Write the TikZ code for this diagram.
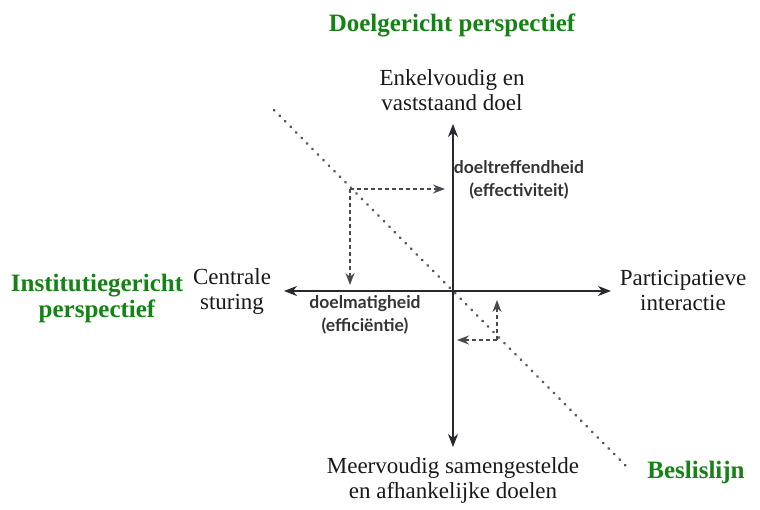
\documentclass[tikz,border=0pt]{standalone}
\usepackage{fontspec}
\setmainfont{Liberation Serif}
\newfontfamily\labsans{Lato}
\usetikzlibrary{arrows.meta}
\definecolor{pgreen}{RGB}{20,130,20}
\definecolor{axisgray}{RGB}{40,40,48}
\tikzset{
  lbl/.style={align=center, font=\fontsize{23}{25}\selectfont, text=black!90, inner sep=0pt},
  slbl/.style={align=center, font=\labsans\bfseries\fontsize{17.5}{23}\selectfont, text=black!80, inner sep=0pt},
  glbl/.style={align=center, font=\bfseries\fontsize{25}{26}\selectfont, text=pgreen, inner sep=0pt},
  axis/.style={draw=axisgray, line width=1.7pt, -{Stealth[length=13pt,width=10pt,inset=4pt]}},
  dasharrow/.style={draw=axisgray!85, line width=1.6pt, dash pattern=on 4pt off 3pt, -{Stealth[length=12pt,width=9pt,inset=4pt]}},
  dline/.style={draw=gray!70!black, line width=2.6pt, line cap=round, dash pattern=on 0.6pt off 7.2pt}
}
\begin{document}
\begin{tikzpicture}[x=1pt,y=-1pt]
\useasboundingbox (0,0) rectangle (760,509);
% axes
\coordinate (O) at (453,291);
\coordinate (top) at (453,124);
\coordinate (bot) at (453,447);
\coordinate (lft) at (284,291);
\coordinate (rgt) at (611,291);
\draw[axis] (O) -- (top);
\draw[axis] (O) -- (bot);
\draw[axis] (O) -- (lft);
\draw[axis] (O) -- (rgt);
% decision line
\coordinate (d1) at (274,110);
\coordinate (d2) at (630,470);
\draw[dline] (d1) -- (d2);
% upper dashed arrows
\coordinate (c1) at (350,189);
\coordinate (c1r) at (445,189);
\coordinate (c1d) at (350,285);
\draw[dasharrow] (c1) -- (c1r);
\draw[dasharrow] (c1) -- (c1d);
% lower dashed arrows
\coordinate (c2) at (497,340);
\coordinate (c2u) at (497,300);
\coordinate (c2l) at (457,340);
\draw[dasharrow] (c2) -- (c2u);
\draw[dasharrow] (c2) -- (c2l);
% labels
\node[glbl] (dp) at (452,25) {Doelgericht perspectief};
\node[lbl] (enk) at (452,90) {Enkelvoudig en\\vaststaand doel};
\node[slbl] (eff) at (519,180) {doeltreffendheid\\(effectiviteit)};
\node[lbl] (cs) at (232,291) {Centrale\\sturing};
\node[glbl] (ip) at (97,298) {Institutiegericht\\perspectief};
\node[lbl] (pi) at (683,290) {Participatieve\\interactie};
\node[slbl] (efc) at (365,315) {doelmatigheid\\(efficiëntie)};
\node[lbl] (mv) at (453,480) {Meervoudig samengestelde\\en afhankelijke doelen};
\node[glbl] (bl) at (696,472) {Beslislijn};
\end{tikzpicture}
\end{document}
